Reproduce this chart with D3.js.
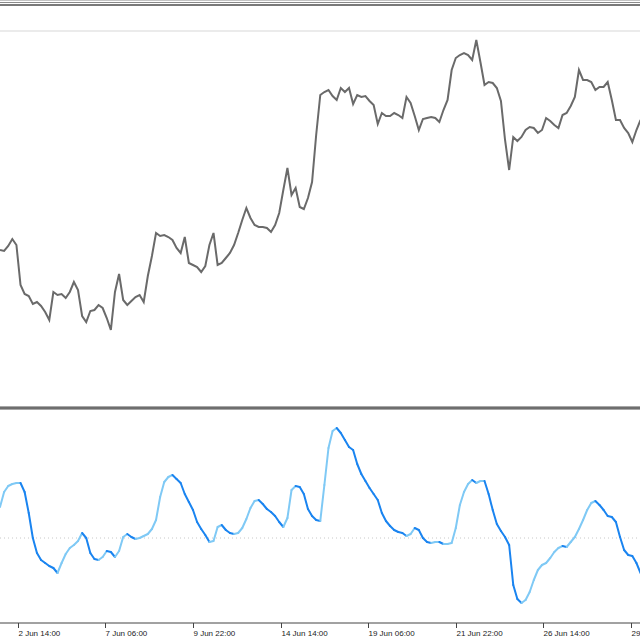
<!DOCTYPE html>
<html><head><meta charset="utf-8">
<script src="https://cdn.jsdelivr.net/npm/d3@7"></script>
<style>html,body{margin:0;padding:0;background:#fff;}svg{display:block;}</style>
</head><body>
<script>
// price samples (every 3 H1 bars)
const barsPerSample = 3;
const price = [
1.1181,1.1180,1.1185,1.1192,1.1186,1.1146,1.1137,1.1135,1.1127,1.1129,
1.1125,1.1119,1.1111,1.1139,1.1136,1.1137,1.1133,1.1139,1.1149,1.1141,
1.1115,1.1109,1.1120,1.1121,1.1126,1.1123,1.1113,1.1101,1.1139,1.1157,
1.1131,1.1126,1.1130,1.1134,1.1136,1.1129,1.1155,1.1175,1.1198,1.1195,
1.1196,1.1194,1.1191,1.1183,1.1178,1.1194,1.1168,1.1166,1.1164,1.1159,
1.1165,1.1186,1.1198,1.1166,1.1168,1.1173,1.1178,1.1186,1.1198,1.1211,
1.1223,1.1213,1.1206,1.1204,1.1204,1.1203,1.1199,1.1206,1.1218,1.1241,
1.1263,1.1236,1.1243,1.1224,1.1222,1.1233,1.1249,1.1296,1.1336,1.1339,
1.1341,1.1335,1.1331,1.1343,1.1339,1.1343,1.1327,1.1336,1.1334,1.1335,
1.1330,1.1326,1.1307,1.1318,1.1315,1.1315,1.1318,1.1316,1.1313,1.1334,
1.1328,1.1315,1.1301,1.1312,1.1313,1.1314,1.1313,1.1309,1.1321,1.1331,
1.1361,1.1373,1.1376,1.1378,1.1376,1.1371,1.1391,1.1369,1.1346,1.1349,
1.1348,1.1343,1.1330,1.1291,1.1261,1.1294,1.1290,1.1294,1.1301,1.1304,
1.1303,1.1298,1.1301,1.1313,1.1310,1.1306,1.1303,1.1316,1.1318,1.1325,
1.1334,1.1361,1.1351,1.1351,1.1349,1.1341,1.1344,1.1344,1.1349,1.1331,
1.1311,1.1311,1.1303,1.1298,1.1289,1.1301,1.1311
];
// oscillator samples (same bar positions)
const osc = [
0.31,0.46,0.52,0.54,0.55,0.55,0.46,0.25,0.00,-0.15,
-0.22,-0.25,-0.28,-0.30,-0.35,-0.25,-0.16,-0.10,-0.07,-0.03,
0.05,0.00,-0.15,-0.21,-0.22,-0.19,-0.13,-0.14,-0.19,-0.13,
0.01,0.04,0.01,-0.01,0.00,0.02,0.04,0.09,0.18,0.41,
0.56,0.61,0.63,0.59,0.55,0.44,0.36,0.28,0.16,0.09,
0.03,-0.04,-0.03,0.11,0.13,0.08,0.05,0.04,0.05,0.10,
0.19,0.30,0.37,0.38,0.34,0.29,0.26,0.22,0.16,0.11,
0.20,0.48,0.52,0.51,0.44,0.29,0.22,0.18,0.17,0.53,
0.90,1.07,1.10,1.05,0.98,0.91,0.88,0.74,0.64,0.57,
0.50,0.44,0.38,0.25,0.17,0.12,0.08,0.06,0.05,0.02,
0.04,0.10,0.08,0.00,-0.04,-0.05,-0.04,-0.04,-0.06,-0.06,
-0.05,0.10,0.33,0.46,0.54,0.58,0.55,0.57,0.57,0.44,
0.28,0.14,0.07,0.01,-0.07,-0.47,-0.61,-0.65,-0.62,-0.54,
-0.42,-0.32,-0.27,-0.25,-0.20,-0.14,-0.10,-0.08,-0.09,-0.04,
0.01,0.09,0.18,0.28,0.35,0.37,0.33,0.28,0.22,0.21,
0.16,0.01,-0.12,-0.17,-0.18,-0.25,-0.35
];
// time axis labels
const tickLabels = ["2 Jun 14:00","7 Jun 06:00","9 Jun 22:00","14 Jun 14:00","19 Jun 06:00","21 Jun 22:00","26 Jun 14:00","29 Jun 06:00"];
const tickBars = [13,77,141,205,269,333,397,461];

const W = 640, H = 640;
const svg = d3.select("body").append("svg").attr("width", W).attr("height", H);

const x = d3.scaleLinear().domain([0, 467.6]).range([0, W]);
const yP = d3.scaleLinear().domain([1.1024, 1.1400]).range([407, 31]);
const yO = d3.scaleLinear().domain([-0.84, 1.28]).range([622, 410]);

// frame lines
svg.append("rect").attr("x",0).attr("y",0).attr("width",W).attr("height",1).attr("fill","#c4c4c4");
svg.append("rect").attr("x",0).attr("y",2).attr("width",W).attr("height",1).attr("fill","#8c8c8c");
svg.append("rect").attr("x",0).attr("y",4).attr("width",W).attr("height",2).attr("fill","#7a7a7a");
svg.append("rect").attr("x",0).attr("y",30).attr("width",W).attr("height",2).attr("fill","#ebebeb");
// panel separator
svg.append("rect").attr("x",0).attr("y",406).attr("width",W).attr("height",4).attr("fill","#a8a8a8");
svg.append("rect").attr("x",0).attr("y",407).attr("width",W).attr("height",2).attr("fill","#6e6e6e");

// price line
const priceLine = d3.line().x((d,i)=>x(i*barsPerSample)).y(d=>yP(d));
svg.append("path").datum(price).attr("d", priceLine)
  .attr("fill","none").attr("stroke","#6a6a6a").attr("stroke-width",2).attr("stroke-linejoin","miter");

// zero level
svg.append("line").attr("x1",0).attr("x2",W).attr("y1",yO(0)).attr("y2",yO(0))
  .attr("stroke","#c8c8c8").attr("stroke-width",1).attr("stroke-dasharray","1,3");

// oscillator: light when rising, dark when falling
const segs = d3.pairs(osc.map((v,i)=>({i,v})));
svg.append("g").selectAll("line").data(segs).join("line")
  .attr("x1",d=>x(d[0].i*barsPerSample)).attr("y1",d=>yO(d[0].v))
  .attr("x2",d=>x(d[1].i*barsPerSample)).attr("y2",d=>yO(d[1].v))
  .attr("stroke",d=>d[1].v>=d[0].v ? "#7fc9f5" : "#1a84f0")
  .attr("stroke-width",2).attr("stroke-linecap","round");

// time axis
svg.append("line").attr("x1",0).attr("x2",W).attr("y1",623).attr("y2",623).attr("stroke","#444").attr("stroke-width",1);
const tg = svg.append("g").selectAll("g").data(tickBars).join("g").attr("transform",d=>`translate(${Math.round(x(d))+0.5},0)`);
tg.append("line").attr("y1",623).attr("y2",628).attr("stroke","#444");
tg.append("text").attr("x",0).attr("y",636).text((d,i)=>tickLabels[i])
  .attr("font-family","Liberation Sans, Arial, sans-serif").attr("font-size","8px").attr("fill","#222");
</script>
</body></html>
